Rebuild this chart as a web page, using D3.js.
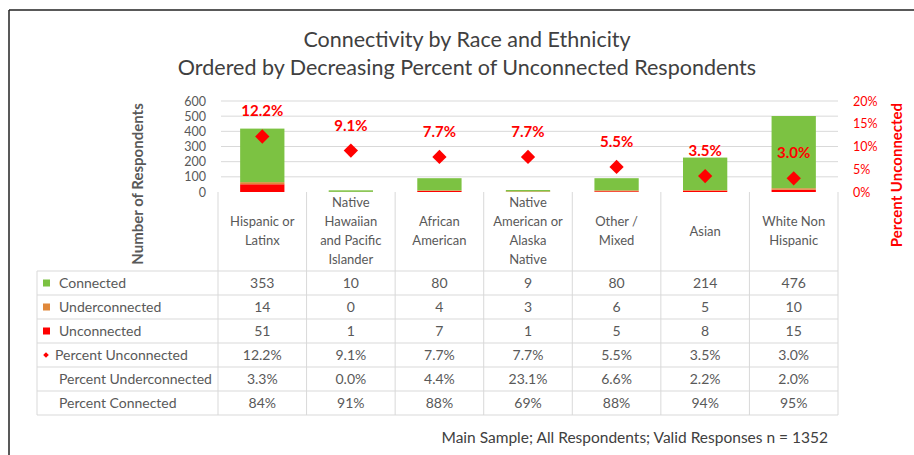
<!DOCTYPE html>
<html><head><meta charset="utf-8">
<script src="https://cdn.jsdelivr.net/npm/d3@7/dist/d3.min.js"></script>
<style>
body{margin:0;background:#fff;}
svg{display:block;font-family:Lato, "Open Sans", sans-serif;}
</style></head><body>
<svg id="chart" width="914" height="455"></svg>
<script>
const categories = ["Hispanic or Latinx","Native Hawaiian and Pacific Islander","African American","Native American or Alaska Native","Other / Mixed","Asian","White Non Hispanic"];
const categoryLines = [["Hispanic or","Latinx"],["Native","Hawaiian","and Pacific","Islander"],["African","American"],["Native","American or","Alaska","Native"],["Other /","Mixed"],["Asian"],["White Non","Hispanic"]];
const connected = [353,10,80,9,80,214,476];
const underconnected = [14,0,4,3,6,5,10];
const unconnected = [51,1,7,1,5,8,15];
const pctUnconnected = [12.2,9.1,7.7,7.7,5.5,3.5,3.0];
const pctUnderconnected = [3.3,0.0,4.4,23.1,6.6,2.2,2.0];
const pctConnected = [84,91,88,69,88,94,95];
const leftTicks = [0,100,200,300,400,500,600];
const rightTicks = [0,5,10,15,20];
const titleLines = ["Connectivity by Race and Ethnicity","Ordered by Decreasing Percent of Unconnected Respondents"];
const footer = "Main Sample; All Respondents; Valid Responses n = 1352";

const C_GREEN="#7cc242", C_ORANGE="#e0883a", C_RED="#ff0000", TXT="#595959", GRID="#d9d9d9";
const svg = d3.select("#chart");

// frame
svg.append("line").attr("x1",9).attr("x2",914).attr("y1",10).attr("y2",10).attr("stroke","#222").attr("stroke-width",1.5);
svg.append("line").attr("x1",9).attr("x2",9).attr("y1",10).attr("y2",455).attr("stroke","#222").attr("stroke-width",1.5);

// title
svg.selectAll("text.title").data(titleLines).join("text").attr("class","title")
  .attr("x",467).attr("y",(d,i)=>47+i*28).attr("text-anchor","middle")
  .attr("font-size",21.5).attr("fill","#404040").text(d=>d);

const tableL=37, colL=218, colR=838;
const x = d3.scaleBand().domain(categories).range([colL,colR]).padding(0);
const xb = d3.scaleBand().domain(categories).range([colL,colR]).paddingInner(0.5).paddingOuter(0.25);
const y = d3.scaleLinear().domain([0,600]).range([192,101]);
const y2 = d3.scaleLinear().domain([0,20]).range([192,101]);

// gridlines
svg.append("g").selectAll("line").data(leftTicks.slice(1)).join("line")
  .attr("x1",colL+3).attr("x2",colR).attr("y1",d=>y(d)).attr("y2",d=>y(d))
  .attr("stroke",GRID).attr("stroke-width",1);

// axes
const gl = svg.append("g").attr("transform",`translate(${colL-12},0)`)
  .call(d3.axisLeft(y).tickValues(leftTicks).tickSize(0).tickPadding(0));
gl.select(".domain").remove();
gl.selectAll("text").attr("font-size",12.5).attr("fill",TXT).attr("font-family","Lato, sans-serif");

const gr = svg.append("g").attr("transform",`translate(${colR+15},0)`)
  .call(d3.axisRight(y2).tickValues(rightTicks).tickSize(0).tickPadding(0).tickFormat(d=>d+"%"));
gr.select(".domain").remove();
gr.selectAll("text").attr("font-size",12.5).attr("fill",C_RED).attr("font-family","Lato, sans-serif");

svg.append("text").attr("transform","translate(143,184) rotate(-90)").attr("text-anchor","middle")
  .attr("font-size",15).attr("font-weight","bold").attr("fill",TXT).text("Number of Respondents");
svg.append("text").attr("transform","translate(902,175) rotate(-90)").attr("text-anchor","middle")
  .attr("font-size",15).attr("font-weight","bold").attr("fill",C_RED).text("Percent Unconnected");

// stacked bars
const rows = categories.map((c,i)=>({cat:c, unconnected:unconnected[i], underconnected:underconnected[i], connected:connected[i]}));
const stack = d3.stack().keys(["unconnected","underconnected","connected"])(rows);
const colors = {unconnected:C_RED, underconnected:C_ORANGE, connected:C_GREEN};
svg.append("g").selectAll("g").data(stack).join("g").attr("fill",d=>colors[d.key])
  .selectAll("rect").data(d=>d).join("rect")
  .attr("x",d=>xb(d.data.cat)).attr("width",xb.bandwidth())
  .attr("y",d=>y(d[1])).attr("height",d=>Math.max(0,y(d[0])-y(d[1])));

// diamonds
const sym = d3.symbol().type(d3.symbolDiamond2).size(130);
svg.append("g").selectAll("path").data(categories).join("path")
  .attr("transform",(d,i)=>`translate(${x(d)+x.bandwidth()/2},${y2(pctUnconnected[i])})`)
  .attr("d",sym).attr("fill",C_RED);
svg.append("g").selectAll("text").data(categories).join("text")
  .attr("x",d=>x(d)+x.bandwidth()/2).attr("y",(d,i)=>y2(pctUnconnected[i])-20)
  .attr("text-anchor","middle").attr("font-size",15).attr("font-weight","bold").attr("fill",C_RED)
  .text((d,i)=>pctUnconnected[i].toFixed(1)+"%");

// table lines
const tTop=271, rowH=24, nRows=6, tBot=tTop+rowH*nRows;
const lines = svg.append("g").attr("stroke",GRID).attr("stroke-width",1);
const vx = categories.map(c=>x(c)).concat([colR]);
vx.forEach(v=>lines.append("line").attr("x1",v).attr("x2",v).attr("y1",192).attr("y2",tBot));
lines.append("line").attr("x1",tableL).attr("x2",tableL).attr("y1",tTop).attr("y2",tBot);
d3.range(nRows+1).forEach(r=>lines.append("line").attr("x1",tableL).attr("x2",colR).attr("y1",tTop+r*rowH).attr("y2",tTop+r*rowH));

// header labels
categories.forEach((c,i)=>{
  const ls = categoryLines[i];
  const cy = 231, lh = 19;
  ls.forEach((t,j)=>{
    svg.append("text").attr("x",x(c)+x.bandwidth()/2).attr("y",cy+(j-(ls.length-1)/2)*lh+4.5)
      .attr("text-anchor","middle").attr("font-size",13).attr("fill",TXT).text(t);
  });
});

// table rows
const tableRows = [
  {name:"Connected", vals:connected.map(String), mark:"sq", color:C_GREEN},
  {name:"Underconnected", vals:underconnected.map(String), mark:"sq", color:C_ORANGE},
  {name:"Unconnected", vals:unconnected.map(String), mark:"sq", color:C_RED},
  {name:"Percent Unconnected", vals:pctUnconnected.map(v=>v.toFixed(1)+"%"), mark:"dia", color:C_RED},
  {name:"Percent Underconnected", vals:pctUnderconnected.map(v=>v.toFixed(1)+"%"), mark:null},
  {name:"Percent Connected", vals:pctConnected.map(v=>v+"%"), mark:null}
];
tableRows.forEach((r,ri)=>{
  const cy = tTop+ri*rowH+rowH/2;
  if(r.mark==="sq") svg.append("rect").attr("x",43).attr("y",cy-3.5).attr("width",7).attr("height",7).attr("fill",r.color);
  if(r.mark==="dia") svg.append("path").attr("transform",`translate(46,${cy})`).attr("d",d3.symbol().type(d3.symbolDiamond2).size(20)()).attr("fill",r.color);
  svg.append("text").attr("x",r.mark==="dia"?55:59).attr("y",cy+4.8).attr("font-size",14).attr("fill",TXT).text(r.name);
  r.vals.forEach((v,i)=>svg.append("text").attr("x",x(categories[i])+x.bandwidth()/2).attr("y",cy+4.8)
    .attr("text-anchor","middle").attr("font-size",14).attr("fill",TXT).text(v));
});

// footer
svg.append("text").attr("x",828).attr("y",443).attr("text-anchor","end").attr("font-size",15.5).attr("fill","#404040").text(footer);
</script></body></html>
